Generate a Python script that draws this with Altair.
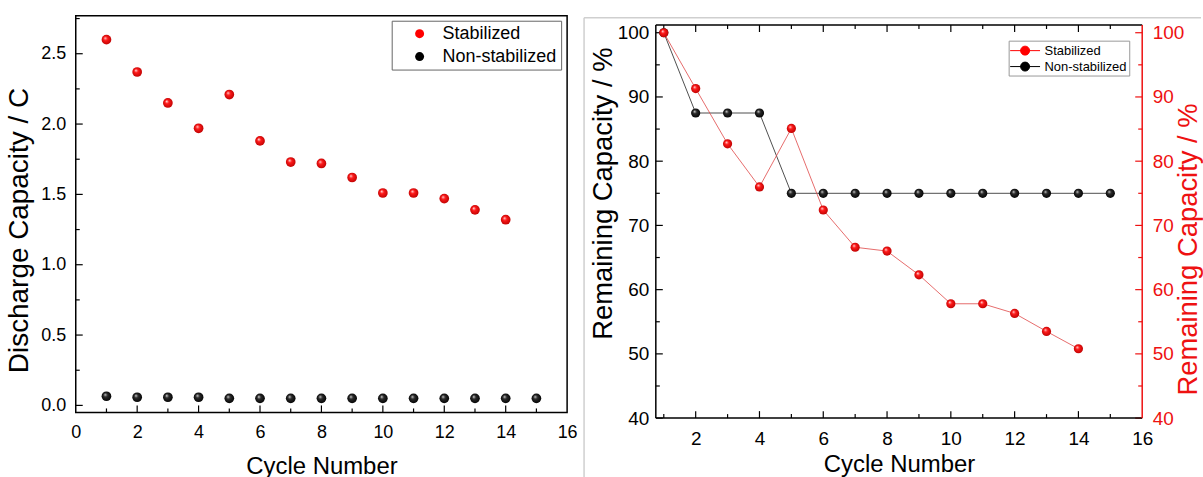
import altair as alt
import pandas as pd

FONT = "Liberation Sans"
RED = "#ff0000"
RED_AXIS = "#ee1111"
RED_LINE = "#e04848"
BLACK = "#000000"

# ---------------- data ----------------
series_names = ["Stabilized", "Non-stabilized"]

cycle_stab = [1, 2, 3, 4, 5, 6, 7, 8, 9, 10, 11, 12, 13, 14]
cycle_non = [1, 2, 3, 4, 5, 6, 7, 8, 9, 10, 11, 12, 13, 14, 15]

# left panel: discharge capacity / C
dis_stab = [2.60, 2.37, 2.15, 1.97, 2.21, 1.88, 1.73, 1.72, 1.62, 1.51, 1.51, 1.47, 1.39, 1.32]
dis_non = [0.065, 0.058, 0.058, 0.058, 0.05, 0.05, 0.05, 0.05, 0.05, 0.05, 0.05, 0.05, 0.05, 0.05, 0.05]

# right panel: remaining capacity / %
rem_stab = [100, 91.3, 82.7, 76.0, 85.1, 72.4, 66.6, 66.0, 62.3, 57.8, 57.8, 56.3, 53.5, 50.8]
rem_non = [100, 87.5, 87.5, 87.5, 75, 75, 75, 75, 75, 75, 75, 75, 75, 75, 75]

# tick values
left_x_labels = [0, 2, 4, 6, 8, 10, 12, 14, 16]
left_x_major = [2, 4, 6, 8, 10, 12, 14]
left_x_minor = [1, 3, 5, 7, 9, 11, 13, 15]
left_y_labels = [0.0, 0.5, 1.0, 1.5, 2.0, 2.5]
left_y_minor = [0.25, 0.75, 1.25, 1.75, 2.25, 2.75]

right_x_labels = [2, 4, 6, 8, 10, 12, 14, 16]
right_x_major = [2, 4, 6, 8, 10, 12, 14]
right_x_minor = [1, 3, 5, 7, 9, 11, 13, 15]
right_y_labels = [40, 50, 60, 70, 80, 90, 100]
right_y_minor = [45, 55, 65, 75, 85, 95]

# ---------------- sizes / scales ----------------
L_W, L_H = 493, 398
R_W, R_H = 488, 403.7     # right group; its frame starts R_T below the group top
R_T = 9.3

LX = alt.Scale(domain=[0, 16], nice=False, zero=False)
LY = alt.Scale(domain=[-0.05, 2.77], nice=False, zero=False)
RX = alt.Scale(domain=[0.75, 16], nice=False, zero=False)
RY = alt.Scale(domain=[40, 101.2], nice=False, zero=False, range=[R_H, R_T])

LX_AXIS = alt.Axis(
    title="Cycle Number", values=left_x_labels, ticks=False, domain=False,
    grid=False, labelFontSize=18, labelPadding=11, labelColor=BLACK,
    labelFlush=False, titleFontSize=24, titleColor=BLACK,
    titleBaseline="alphabetic", titleY=61)
LY_AXIS = alt.Axis(
    title="Discharge Capacity / C", values=left_y_labels, format=".1f",
    ticks=False, domain=False, grid=False, labelFontSize=18,
    labelPadding=10, labelColor=BLACK, labelFlush=False,
    titleFontSize=28, titleColor=BLACK, titleAngle=270,
    titleBaseline="alphabetic", titleAlign="center",
    titleX=-48, titleY=215)
RX_AXIS = alt.Axis(
    title="Cycle Number", values=right_x_labels, ticks=False, domain=False,
    grid=False, labelFontSize=19, labelPadding=11, labelColor=BLACK,
    labelFlush=False, titleFontSize=24, titleColor=BLACK,
    titleBaseline="alphabetic", titleY=54)


def sphere(light, mid, dark):
    return alt.RadialGradient(
        gradient="radial", x1=0.36, y1=0.32, r1=0.0, x2=0.5, y2=0.5, r2=0.56,
        stops=[alt.GradientStop(offset=0.0, color=light),
               alt.GradientStop(offset=0.35, color=mid),
               alt.GradientStop(offset=1.0, color=dark)])


RED_SPHERE = sphere("#ffe6e6", "#ff1a1a", "#b80000")
BLACK_SPHERE = sphere("#e0e0e0", "#2a2a2a", "#000000")

df_ls = pd.DataFrame({"x": cycle_stab, "y": dis_stab, "s": "Stabilized"})
df_ln = pd.DataFrame({"x": cycle_non, "y": dis_non, "s": "Non-stabilized"})
df_rs = pd.DataFrame({"x": cycle_stab, "y": rem_stab, "s": "Stabilized"})
df_rn = pd.DataFrame({"x": cycle_non, "y": rem_non, "s": "Non-stabilized"})
df_leg = pd.DataFrame({"s": series_names})
one = pd.DataFrame({"a": [0]})


def xticks(vals, scale, axis, y_from, length):
    d = pd.DataFrame({"x": vals})
    return alt.Chart(d).mark_rule(color=BLACK, strokeWidth=1.2).encode(
        x=alt.X("x:Q", scale=scale, axis=axis),
        y=alt.value(y_from), y2=alt.value(y_from + length))


def yticks(vals, scale, axis, x_from, length, color=BLACK):
    d = pd.DataFrame({"y": vals})
    return alt.Chart(d).mark_rule(color=color, strokeWidth=1.2).encode(
        y=alt.Y("y:Q", scale=scale, axis=axis),
        x=alt.value(x_from), x2=alt.value(x_from + length))


def frame_line(x1, x2, y1, y2, color=BLACK, width=1.5):
    enc = dict(x=alt.value(x1), y=alt.value(y1))
    if x2 is not None:
        enc["x2"] = alt.value(x2)
    if y2 is not None:
        enc["y2"] = alt.value(y2)
    return alt.Chart(one).mark_rule(color=color, strokeWidth=width).encode(**enc)


# ---------------- left panel ----------------
left_legend = alt.Chart(df_leg).transform_filter("false").mark_point(
    filled=True, opacity=1).encode(
    fill=alt.Fill("s:N", scale=alt.Scale(domain=series_names, range=[RED, BLACK]),
                  legend=alt.Legend(
                      title=None, orient="none", legendX=317, legendY=5,
                      direction="vertical", padding=4, symbolOffset=15,
                      labelOffset=14, rowPadding=5, symbolType="circle",
                      symbolSize=81, symbolStrokeWidth=0, labelFontSize=18,
                      labelFont=FONT, labelColor=BLACK, labelLimit=300,
                      strokeColor="#666666", fillColor="white", cornerRadius=0)))

left_non_pts = alt.Chart(df_ln).mark_circle(size=95, fill=BLACK_SPHERE, opacity=1).encode(
    x=alt.X("x:Q", scale=LX, axis=LX_AXIS),
    y=alt.Y("y:Q", scale=LY, axis=LY_AXIS))

left_stab_pts = alt.Chart(df_ls).mark_circle(size=95, fill=RED_SPHERE, opacity=1).encode(
    x=alt.X("x:Q", scale=LX, axis=LX_AXIS),
    y=alt.Y("y:Q", scale=LY, axis=LY_AXIS))

left = alt.layer(
    xticks(left_x_major, LX, LX_AXIS, L_H, -7),
    xticks(left_x_minor, LX, LX_AXIS, L_H, -4),
    yticks(left_y_labels, LY, LY_AXIS, 0, 7),
    yticks(left_y_minor, LY, LY_AXIS, 0, 4),
    left_non_pts,
    left_stab_pts,
    left_legend,
).properties(width=L_W, height=L_H)

# ---------------- right panel ----------------
GRAY = "#cfcfcf"
border_v = frame_line(-72, None, 2, 463, color=GRAY)
border_h = frame_line(-72, 547, 2, None, color=GRAY)

frame_top = frame_line(0, R_W, R_T, None)
frame_left = frame_line(0, None, R_T, R_H)
frame_bottom = frame_line(0, R_W, R_H, None)
frame_right = frame_line(R_W, None, R_T, R_H, color=RED_AXIS)

non_line = alt.Chart(df_rn).mark_line(color="#222222", strokeWidth=0.8).encode(
    x=alt.X("x:Q", scale=RX, axis=RX_AXIS),
    y=alt.Y("y:Q", scale=RY, axis=None))
stab_line = alt.Chart(df_rs).mark_line(color=RED_LINE, strokeWidth=0.8).encode(
    x=alt.X("x:Q", scale=RX, axis=RX_AXIS),
    y=alt.Y("y:Q", scale=RY, axis=None))

non_pts = alt.Chart(df_rn).mark_circle(size=85, fill=BLACK_SPHERE, opacity=1).encode(
    x=alt.X("x:Q", scale=RX, axis=RX_AXIS),
    y=alt.Y("y:Q", scale=RY, axis=alt.Axis(
        title="Remaining Capacity / %", values=right_y_labels, ticks=False,
        domain=False, grid=False, labelFontSize=19, labelPadding=7,
        labelColor=BLACK, labelFlush=False, titleFontSize=27.5,
        titleColor=BLACK, titleAngle=270, titleBaseline="alphabetic",
        titleAlign="center", titleX=-44, titleY=178)))

stab_pts = alt.Chart(df_rs).mark_circle(size=85, fill=RED_SPHERE, opacity=1).encode(
    x=alt.X("x:Q", scale=RX, axis=RX_AXIS),
    y=alt.Y("y:Q", scale=RY, axis=alt.Axis(
        orient="right", title="Remaining Capacity / %", values=right_y_labels,
        ticks=False, domain=False, grid=False, labelFontSize=19,
        labelPadding=10, labelColor=RED_AXIS, labelFlush=False,
        titleFontSize=27.5, titleColor=RED_AXIS, titleAngle=270,
        titleBaseline="alphabetic", titleAlign="center",
        titleX=54, titleY=234)))

LEG_PATH = "M-2,0L2,0M-0.6,0A0.6,0.6,0,1,1,0.6,0A0.6,0.6,0,1,1,-0.6,0Z"
right_leg_def = dict(
    title=None, orient="none", legendX=354, legendY=25, direction="vertical",
    padding=2, symbolOffset=6.5, labelOffset=11.5, rowPadding=1,
    symbolType=LEG_PATH, symbolSize=225, symbolStrokeWidth=1,
    labelFontSize=13, labelFont=FONT, labelColor=BLACK, labelLimit=300,
    strokeColor="#999999", fillColor="white", cornerRadius=0)
right_scale_c = alt.Scale(domain=series_names, range=[RED, BLACK])
right_legend = alt.Chart(df_leg).transform_filter("false").mark_point(
    filled=True, opacity=1).encode(
    fill=alt.Fill("s:N", scale=right_scale_c, legend=alt.Legend(**right_leg_def)),
    stroke=alt.Stroke("s:N", scale=right_scale_c, legend=alt.Legend(**right_leg_def)))

right = alt.layer(
    border_v,
    border_h,
    xticks(right_x_major, RX, RX_AXIS, R_H, -7),
    xticks(right_x_minor, RX, RX_AXIS, R_H, -4),
    xticks(right_x_major, RX, RX_AXIS, R_T, 7),
    xticks(right_x_minor, RX, RX_AXIS, R_T, 4),
    yticks(right_y_labels, RY, None, 0, 7),
    yticks(right_y_minor, RY, None, 0, 4),
    yticks(right_y_labels, RY, None, R_W, -7, color=RED_AXIS),
    yticks(right_y_minor, RY, None, R_W, -4, color=RED_AXIS),
    frame_top,
    frame_left,
    frame_bottom,
    frame_right,
    non_line,
    non_pts,
    stab_line,
    stab_pts,
    right_legend,
).resolve_scale(y="independent").properties(
    width=R_W, height=R_H, view=alt.ViewBackground(stroke="transparent"))

chart = alt.hconcat(left, right, spacing=4).resolve_scale(
    fill="independent", stroke="independent"
).resolve_legend(
    fill="independent", stroke="independent"
).properties(
    padding={"left": 5, "top": 14, "right": 0, "bottom": 0},
    background="white",
).configure_view(
    stroke=BLACK, strokeWidth=1.5
).configure_axis(
    labelFont=FONT, titleFont=FONT, titleFontWeight="normal"
).configure_legend(
    labelFont=FONT
)

chart.save("out.html", embed_options={"renderer": "svg", "actions": False})
